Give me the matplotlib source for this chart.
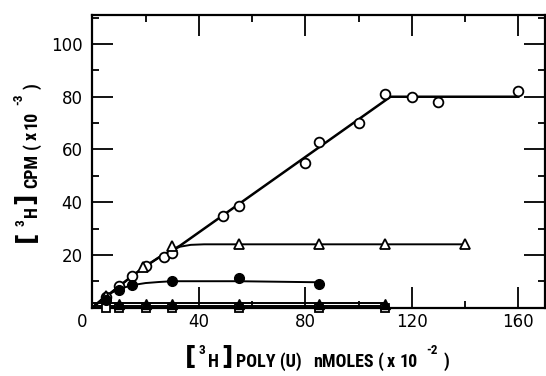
import matplotlib
matplotlib.use("Agg")
import matplotlib.pyplot as plt
from matplotlib.ticker import MultipleLocator, FixedLocator

# Open circles: uptake vs. poly(U) added
oc_x = [5, 10, 15, 20, 27, 30, 49, 55, 80, 85, 100, 110, 120, 130, 160]
oc_y = [4, 8, 12, 15.8, 19, 20.6, 34.8, 38.6, 55, 63, 70, 81, 80, 78, 82]
oc_fit_x = [0, 5, 10, 15, 20, 25, 30, 33, 112, 160]
oc_fit_y = [0, 4, 8, 12, 15.7, 19, 21.8, 23.5, 80, 80]

# Open triangles
ot_x = [5, 19, 30, 55, 85, 110, 140]
ot_y = [4.5, 15.5, 23.2, 24, 24, 24, 24]
ot_fit_x = [0, 5, 10, 15, 20, 25, 30, 33, 37, 42, 140]
ot_fit_y = [0, 4, 8, 12, 15.7, 19, 21.8, 23.1, 23.8, 24, 24]

# Filled circles
fc_x = [5, 10, 15, 30, 55, 85]
fc_y = [3, 6.5, 8.4, 9.9, 11.2, 8.9]
fc_fit_x = [0, 5, 10, 15, 20, 25, 30, 40, 55, 85]
fc_fit_y = [0, 4.5, 7, 8.5, 9.3, 9.7, 10, 10, 10, 9.6]

# Filled triangles
ft_x = [10, 20, 30, 55, 85, 110]
ft_y = [1.4, 1.4, 1.4, 1.4, 1.4, 1.4]
ft_fit_x = [0, 110]
ft_fit_y = [1.6, 1.6]

# Open squares
sq_x = [5, 10, 20, 30, 55, 85, 110]
sq_y = [0, 0, 0, 0, 0, 0, 0]
sq_fit_x = [0, 110]
sq_fit_y = [0.7, 0.7]

x_major = [40, 80, 120, 160]
y_major = [20, 40, 60, 80, 100]

plt.rcParams['font.family'] = ['DejaVu Sans']

W, H = 546, 376
fig = plt.figure(figsize=(W / 100, H / 100), dpi=100)
ax = fig.add_axes([0.169, 0.182, 0.829, 0.778])

ax.set_xlim(0, 170)
ax.set_ylim(0, 111)

lw_main = 1.8
lw = 1.4
ms = 7

ax.plot(oc_fit_x, oc_fit_y, color='black', lw=lw_main, zorder=2, solid_joinstyle='round')
ax.plot(ot_fit_x, ot_fit_y, color='black', lw=lw, zorder=2)
ax.plot(fc_fit_x, fc_fit_y, color='black', lw=lw, zorder=2)
ax.plot(ft_fit_x, ft_fit_y, color='black', lw=lw, zorder=2)
ax.plot(sq_fit_x, sq_fit_y, color='black', lw=lw, zorder=2)

ax.plot(oc_x, oc_y, 'o', ms=ms, mfc='white', mec='black', mew=1.3, zorder=4, clip_on=False)
ax.plot(ot_x, ot_y, '^', ms=ms + 0.5, mfc='white', mec='black', mew=1.3, zorder=4, clip_on=False)
ax.plot(fc_x, fc_y, 'o', ms=ms, mfc='black', mec='black', zorder=4, clip_on=False)
ax.plot(sq_x, sq_y, 's', ms=6, mfc='white', mec='black', mew=1.3, zorder=3, clip_on=False)
ax.plot(ft_x, ft_y, '^', ms=ms, mfc='black', mec='black', zorder=4, clip_on=False)

for s in ax.spines.values():
    s.set_linewidth(1.6)

ax.xaxis.set_major_locator(FixedLocator(x_major))
ax.xaxis.set_minor_locator(MultipleLocator(20))
ax.yaxis.set_major_locator(FixedLocator(y_major))
ax.yaxis.set_minor_locator(MultipleLocator(10))
ax.tick_params(which='both', direction='in', top=True, right=True, width=1.3)
ax.tick_params(which='major', length=15, labelsize=12)
ax.tick_params(axis='x', which='major', pad=4)
ax.tick_params(axis='y', which='major', pad=7)
ax.tick_params(which='minor', length=5)
ax.set_xticklabels([str(v) for v in x_major])
ax.set_yticklabels([str(v) for v in y_major])

LABEL_FONT = ['Roboto Condensed', 'PT Sans Narrow', 'Archivo Narrow', 'Liberation Sans']
FS = 13      # axis-title words
FS_SUP = 9.5  # superscripts
FS_BR = 18   # square brackets


def put(px, py, s, **kw):
    """Place text at pixel position (px, py) measured from the top-left corner."""
    kw.setdefault('family', LABEL_FONT)
    kw.setdefault('fontweight', 'bold')
    return fig.text(px / W, 1 - py / H, s, **kw)


def bracket(px, py, s, **kw):
    return put(px, py, s, ha='center', va='center', fontsize=FS_BR,
               family='DejaVu Sans', fontweight='bold', **kw)


# shared origin label at the corner
put(82, 322, '0', ha='center', va='center', fontsize=12, family='DejaVu Sans',
    fontweight='normal')

# x-axis label:  [3H] POLY (U)  nMOLES (x 10^-2)
xb = 367
bracket(191, 356.5, '[')
put(202, 350, '3', ha='center', va='center', fontsize=FS_SUP)
put(208, xb, 'H', ha='left', va='baseline', fontsize=FS)
bracket(227, 356.5, ']')
put(236, xb, 'POLY (U)', ha='left', va='baseline', fontsize=FS)
put(313, xb, 'nMOLES', ha='left', va='baseline', fontsize=FS)
put(378, xb, '(', ha='left', va='baseline', fontsize=FS)
put(387, xb, 'x', ha='left', va='baseline', fontsize=FS)
put(400, xb, '10', ha='left', va='baseline', fontsize=FS)
put(432, 350, '-2', ha='center', va='center', fontsize=FS_SUP)
put(444, xb, ')', ha='left', va='baseline', fontsize=FS)

# y-axis label, rotated:  [3H] CPM  (x 10^-3)
yb = 37
rot = dict(rotation=90, rotation_mode='anchor')
bracket(25.5, 236, '[', **rot)
put(21, 223, '3', ha='center', va='center', fontsize=FS_SUP, **rot)
put(yb, 217, 'H', ha='left', va='baseline', fontsize=FS, **rot)
bracket(25.5, 198, ']', **rot)
put(yb, 188, 'CPM', ha='left', va='baseline', fontsize=FS, **rot)
put(yb, 149, '(', ha='left', va='baseline', fontsize=FS, **rot)
put(yb, 140, 'x', ha='left', va='baseline', fontsize=FS, **rot)
put(yb, 129, '10', ha='left', va='baseline', fontsize=FS, **rot)
put(19, 99, '-3', ha='center', va='center', fontsize=FS_SUP, **rot)
put(yb, 89, ')', ha='left', va='baseline', fontsize=FS, **rot)

fig.savefig('out.png', dpi=100)
